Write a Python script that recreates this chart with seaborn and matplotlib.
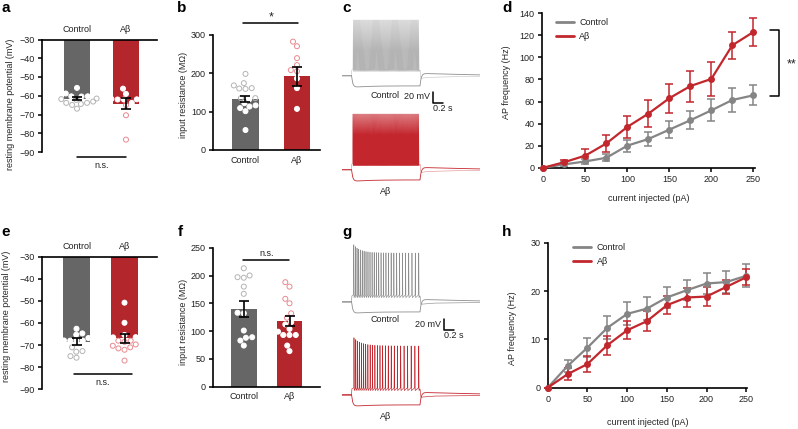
import numpy as np
import pandas as pd
import seaborn as sns
import matplotlib.pyplot as plt
from matplotlib.lines import Line2D

# ---- data ----
groups = ['Control', 'Aβ']

a_means = [-61.5, -64.2]
a_sems = [0.8, 3.0]
a_ctrl_pts = [-55.8, -58.8, -58.8, -59.6, -60.3, -60.4, -60.3, -61.5, -61.8, -62.2,
              -63.8, -64.4, -64.9, -63.8, -63.1, -66.9]
a_ab_pts = [-56.2, -59.0, -61.7, -62.0, -62.0, -61.7, -63.8, -65.0, -70.4, -83.4, -61.9]

b_means = [133, 192]
b_sems = [8.7, 24.5]
b_ctrl_pts = [198, 168, 160, 159, 161, 174, 135, 122, 116, 135, 132, 109, 101, 113, 52]
b_ab_pts = [308, 282, 270, 239, 221, 205, 208, 186, 161, 107]

e_means = [-68.5, -67.0]
e_sems = [1.5, 2.0]
e_ctrl_pts = [-62.6, -65.3, -64.7, -66.8, -67.9, -68.0, -68.0, -68.0, -71.0, -73.0,
              -72.7, -75.7, -75.0]
e_ab_pts = [-50.8, -59.9, -65.4, -66.2, -66.5, -66.4, -68.0, -70.3, -71.5, -72.1,
            -71.0, -69.7, -68.0, -77.0, -68.5]

f_means = [140, 119]
f_sems = [14, 9]
f_ctrl_pts = [200, 196, 197, 213, 180, 167, 133, 132, 101, 88, 89, 83, 74]
f_ab_pts = [188, 180, 158, 150, 132, 124, 112, 104, 116, 99, 93, 93, 93, 74, 64]

current = [0, 25, 50, 75, 100, 125, 150, 175, 200, 225, 250]
d_ctrl_mean = [0, 3, 5.7, 9, 20, 26, 34.5, 43, 52, 61.4, 65.6]
d_ctrl_sem = [0, 2, 2.5, 3, 5.5, 6, 7.5, 8, 10, 10.5, 9]
d_ab_mean = [0, 5, 11, 22, 37, 49, 63, 74, 80.5, 111, 123]
d_ab_sem = [0, 2, 6, 8, 9.7, 12, 13, 14, 15.5, 12, 12.5]

h_ctrl_mean = [0, 4.5, 8.3, 12.4, 15.3, 16.4, 18.7, 20.2, 21.6, 21.9, 23.2]
h_ctrl_sem = [0, 1.2, 2.0, 2.4, 2.4, 2.4, 2.2, 2.1, 2.2, 2.2, 2.4]
h_ab_mean = [0, 2.8, 4.9, 8.8, 11.9, 13.8, 17.1, 18.7, 18.9, 20.9, 22.9]
h_ab_sem = [0, 1.2, 1.7, 2.0, 1.9, 2.0, 1.9, 2.0, 1.9, 1.5, 1.7]

# example traces: spike counts, first/last spike peak (mV)
c_spikes = [70, 130]
g_spikes = [28, 25]
c_peaks = [37, 37]
g_peaks = [39, 24]

# ---- style ----
BAR_GRAY, BAR_RED = '#666666', '#b2262c'
PT_GRAY, PT_RED = '#b4b4b4', '#e88a8f'
LINE_GRAY, LINE_RED = '#858585', '#c1272d'
TR_GRAY, TR_RED = '#8e8e8e', '#c4262e'

sns.set_style('ticks')
plt.rcParams['font.family'] = ['Liberation Sans', 'DejaVu Sans']
plt.rcParams.update({
    'font.size': 6.5, 'axes.labelsize': 6.5, 'xtick.labelsize': 6.5, 'ytick.labelsize': 6.5,
    'axes.linewidth': 1.2, 'xtick.major.width': 1.1, 'ytick.major.width': 1.1,
    'xtick.major.size': 3, 'ytick.major.size': 3,
    'xtick.major.pad': 2, 'ytick.major.pad': 2,
    'axes.edgecolor': 'black', 'text.color': '#222222',
    'xtick.color': 'black', 'ytick.color': 'black',
    'xtick.labelcolor': '#222222', 'ytick.labelcolor': '#222222',
})

W, H = 798, 429
fig = plt.figure(figsize=(W / 100, H / 100), dpi=100)


def box(l, t, r, b):
    return [l / W, 1 - b / H, (r - l) / W, (b - t) / H]


def bar_panel(ax, means, sems, ctrl_pts, ab_pts, ylim, width, xlim, hanging):
    ax.set_xlim(*xlim)
    ax.set_ylim(*ylim)
    sns.barplot(x=groups, y=means, hue=groups, palette=[BAR_GRAY, BAR_RED], legend=False,
                width=width, saturation=1, errorbar=None, linewidth=0, ax=ax, zorder=1)
    df = pd.DataFrame({'group': ['Control'] * len(ctrl_pts) + ['Aβ'] * len(ab_pts),
                       'value': ctrl_pts + ab_pts})
    n0 = len(ax.collections)
    sns.swarmplot(data=df, x='group', y='value', order=groups, color='k', size=3.6,
                  ax=ax, zorder=3, linewidth=0.7)
    for coll, m, c in zip(ax.collections[n0:], means, [PT_GRAY, PT_RED]):
        ys = coll.get_offsets()[:, 1]
        inside = ys > m if hanging else ys < m
        coll.set_facecolors(['white' if i else 'none' for i in inside])
        coll.set_edgecolors(['white' if i else c for i in inside])
        coll.set_linewidths(0.7)
    ax.errorbar([0, 1], means, yerr=sems, fmt='none', ecolor='black', elinewidth=1.2,
                capsize=3.5, capthick=1.2, zorder=4)
    ax.set_xlim(*xlim)
    ax.set_ylim(*ylim)
    ax.set_xlabel('')
    if hanging:
        ax.xaxis.tick_top()
        ax.tick_params(axis='x', length=0, pad=4)
        sns.despine(ax=ax, top=False, bottom=True, right=True)
    else:
        ax.tick_params(axis='x', length=0, pad=4)
        sns.despine(ax=ax)


# ---- a ----
ax_a = fig.add_axes(box(42, 39.5, 157, 152))
bar_panel(ax_a, a_means, a_sems, a_ctrl_pts, a_ab_pts, (-90, -30), 0.53, (-0.714, 1.633), True)
ax_a.set_yticks(range(-90, -29, 10))
ax_a.set_ylabel('resting membrane potential (mV)')
ax_a.yaxis.set_label_coords(-0.235, 0.42)
ax_a.plot([0, 1], [-92.7, -92.7], color='k', lw=1.1, clip_on=False)
ax_a.text(0.5, -95, 'n.s.', ha='center', va='top')

# ---- b ----
ax_b = fig.add_axes(box(213, 34.7, 320, 150))
bar_panel(ax_b, b_means, b_sems, b_ctrl_pts, b_ab_pts, (0, 300), 0.52, (-0.631, 1.447), False)
ax_b.set_yticks([0, 100, 200, 300])
ax_b.set_ylabel('input resistance (MΩ)')
ax_b.yaxis.set_label_coords(-0.238, 0.477)
ax_b.plot([-0.05, 1.02], [331, 331], color='k', lw=1.1, clip_on=False)
ax_b.text(0.5, 337, '*', ha='center', va='baseline', fontsize=9)

# ---- e ----
ax_e = fig.add_axes(box(41.7, 256.7, 157, 389.3))
bar_panel(ax_e, e_means, e_sems, e_ctrl_pts, e_ab_pts, (-90, -30), 0.56, (-0.725, 1.677), True)
ax_e.set_yticks(range(-90, -29, 10))
ax_e.set_ylabel('resting membrane potential (mV)')
ax_e.yaxis.set_label_coords(-0.27, 0.553)
ax_e.plot([-0.05, 1.15], [-83.2, -83.2], color='k', lw=1.1)
ax_e.text(0.55, -85, 'n.s.', ha='center', va='top')

# ---- f ----
ax_f = fig.add_axes(box(212.7, 247.7, 320, 386.7))
bar_panel(ax_f, f_means, f_sems, f_ctrl_pts, f_ab_pts, (0, 250), 0.56, (-0.68, 1.667), False)
ax_f.set_yticks(range(0, 251, 50))
ax_f.set_ylabel('input resistance (MΩ)')
ax_f.yaxis.set_label_coords(-0.232, 0.465)
ax_f.plot([-0.02, 0.99], [228, 228], color='k', lw=1.1, clip_on=False)
ax_f.text(0.5, 235, 'n.s.', ha='center', va='baseline')


# ---- d / h ----
def freq_panel(ax, ctrl_mean, ctrl_sem, ab_mean, ab_sem, xlim, ylim, yticks, leg_anchor):
    df = pd.DataFrame({'current': current * 2,
                       'freq': ctrl_mean + ab_mean,
                       'group': ['Control'] * len(current) + ['Aβ'] * len(current)})
    sns.lineplot(data=df, x='current', y='freq', hue='group', hue_order=groups,
                 palette=[LINE_GRAY, LINE_RED], marker='o', markersize=5, markeredgewidth=0,
                 linewidth=1.6, legend=False, ax=ax, clip_on=False, zorder=3)
    for m, s, c in [(ctrl_mean, ctrl_sem, LINE_GRAY), (ab_mean, ab_sem, LINE_RED)]:
        ax.errorbar(current, m, yerr=s, fmt='none', ecolor=c, elinewidth=1.1,
                    capsize=3, capthick=1.1, zorder=2, clip_on=False)
    ax.set_xlim(*xlim)
    ax.set_ylim(*ylim)
    ax.set_xticks(range(0, 251, 50))
    ax.set_yticks(yticks)
    ax.set_xlabel('current injected (pA)')
    ax.set_ylabel('AP frequency (Hz)')
    sns.despine(ax=ax)
    handles = [Line2D([], [], color=LINE_GRAY, lw=2), Line2D([], [], color=LINE_RED, lw=2)]
    ax.legend(handles, groups, loc='upper left', bbox_to_anchor=leg_anchor, frameon=False,
              handlelength=2.0, handletextpad=0.6, labelspacing=0.55, borderaxespad=0,
              fontsize=6.5)


ax_d = fig.add_axes(box(541.7, 13.3, 755, 167.7))
freq_panel(ax_d, d_ctrl_mean, d_ctrl_sem, d_ab_mean, d_ab_sem, (-2, 252), (0, 140),
           range(0, 141, 20), (0.05, 0.99))
ax_d.yaxis.set_label_coords(-0.142, 0.555)
ax_d.xaxis.set_label_coords(0.5, -0.17)
ax_d.plot([270, 280, 280, 270], [d_ab_mean[-1] + 1.8, d_ab_mean[-1] + 1.8,
                                 d_ctrl_mean[-1] - 0.6, d_ctrl_mean[-1] - 0.6],
          color='k', lw=1.1, clip_on=False)
ax_d.text(290, 90.8, '**', ha='left', va='baseline', fontsize=9)

ax_h = fig.add_axes(box(547.7, 243, 747, 387.7))
freq_panel(ax_h, h_ctrl_mean, h_ctrl_sem, h_ab_mean, h_ab_sem, (0, 251), (0, 30),
           [0, 10, 20, 30], (0.11, 1.025))
ax_h.yaxis.set_label_coords(-0.152, 0.413)
ax_h.xaxis.set_label_coords(0.5, -0.21)

# ---- c / g example traces ----
T_END, STEP_ON, STEP_OFF = 2.76, 0.19, 1.56
REST, TROUGH, HYPER = -65, -54, -86


def hyper_sweep():
    t = np.linspace(0, T_END, 1400)
    v = np.full_like(t, REST + 1.0)
    on = (t >= STEP_ON) & (t < STEP_OFF)
    k = 1 - np.exp(-(t[on] - STEP_ON) / 0.025)
    v[on] = REST + 1.0 + (HYPER - REST - 1.0) * k + 3 * (1 - np.exp(-(t[on] - STEP_ON) / 0.3)) * k
    post = t >= STEP_OFF
    dt = t[post] - STEP_OFF
    v_off = v[on][-1]
    v[post] = (REST + 1.0 + (v_off - REST - 1.0) * np.exp(-dt / 0.025)
               + 4 * (1 - np.exp(-dt / 0.025)) * np.exp(-dt / 0.9))
    return t, v


def spike_sweep(n, peak_first, peak_last, adapt):
    w = np.exp(adapt * np.linspace(0, 1, n))
    times = STEP_ON + 0.015 + np.cumsum(w) / w.sum() * (STEP_OFF - STEP_ON - 0.04)
    peaks = peak_last + (peak_first - peak_last) * np.exp(-np.arange(n) / 4)
    tt = [0, STEP_ON, STEP_ON + 0.008]
    vv = [REST - 1, REST - 1, TROUGH]
    for ts, pk in zip(times, peaks):
        tt += [ts - 0.004, ts, ts + 0.006]
        vv += [TROUGH + 2, pk, TROUGH - 3]
    tt += [STEP_OFF, STEP_OFF + 0.02, STEP_OFF + 0.3, T_END]
    vv += [TROUGH, REST - 4, REST - 2, REST - 1]
    return np.array(tt), np.array(vv)


def trace_panel(ax, spikes, peaks, adapt, offset, ylim, label_y, bar_x, bar_y, lw):
    for n, col, off in zip(spikes, [TR_GRAY, TR_RED], [0, offset]):
        t, v = hyper_sweep()
        ax.plot(t, v + off, color=col, lw=0.6)
        t, v = spike_sweep(n, peaks[0], peaks[1], adapt)
        ax.plot(t, v + off, color=col, lw=lw)
    ax.set_xlim(0, T_END)
    ax.set_ylim(*ylim)
    ax.axis('off')
    ax.text(0.86, label_y[0], 'Control', ha='center', va='center', color='#222222')
    ax.text(0.88, label_y[1], 'Aβ', ha='center', va='center', color='#222222')
    ax.plot([bar_x, bar_x, bar_x + 0.2], [bar_y, bar_y - 20, bar_y - 20], color='k', lw=1.1)
    ax.text(bar_x - 0.06, bar_y - 9, '20 mV', ha='right', va='center', color='#222222')
    ax.text(bar_x + 0.2, bar_y - 30, '0.2 s', ha='center', va='center', color='#222222')


ax_c = fig.add_axes(box(342, 15, 480, 200))
trace_panel(ax_c, c_spikes, c_peaks, 0.0, -171, (-290.5, 45.9), (-101, -275), 1.82, -94, 0.22)
ax_g = fig.add_axes(box(342, 230, 480, 420))
trace_panel(ax_g, g_spikes, g_peaks, 0.8, -169, (-279.5, 65.9), (-97.7, -274), 2.04, -96, 0.45)

# ---- panel letters ----
for letter, x, y in [('a', 1, 12), ('b', 177, 12), ('c', 342, 12), ('d', 502, 12),
                     ('e', 1, 236), ('f', 178, 236), ('g', 342, 236), ('h', 502, 236)]:
    fig.text(x / W, 1 - y / H, letter, fontsize=11, fontweight='bold', color='black',
             ha='left', va='baseline')

fig.savefig('out.png', dpi=100)
